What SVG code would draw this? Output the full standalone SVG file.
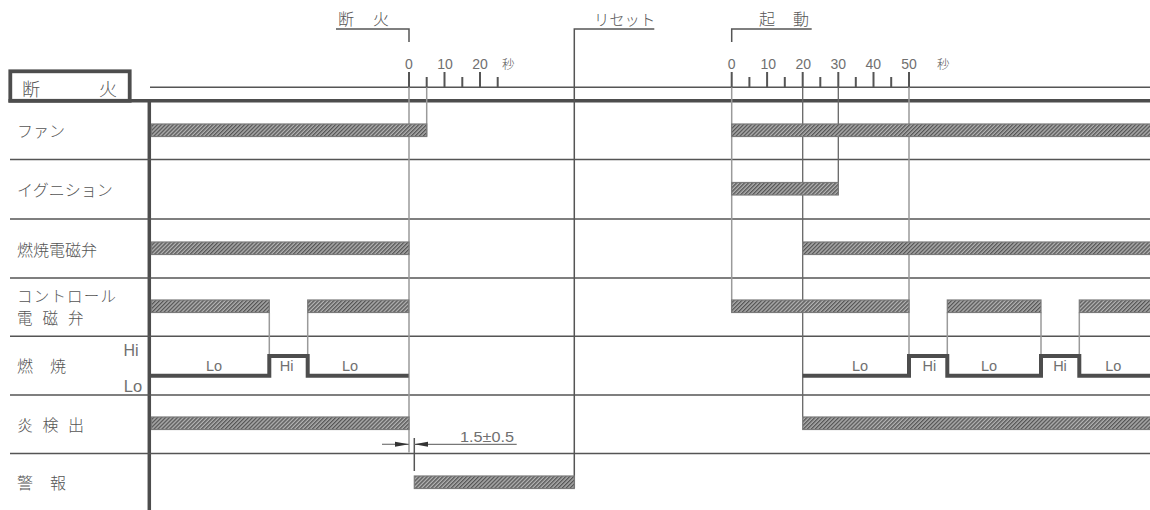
<svg xmlns="http://www.w3.org/2000/svg" width="1150" height="510" viewBox="0 0 1150 510">
  <style>
    .jp { font-family: "Noto Sans CJK JP", "Noto Sans", sans-serif; font-weight: 300; fill: #555; dominant-baseline: central; }
    .num { font-family: "Liberation Sans", "DejaVu Sans", sans-serif; fill: #707070; dominant-baseline: central; text-anchor: middle; }
    .ln { stroke: #555; stroke-width: 1.5; fill: none; }
    .thick { stroke: #4d4d4d; stroke-width: 3.5; fill: none; }
    .tick { stroke: #555; stroke-width: 2; }
    .guide { stroke: #9a9a9a; stroke-width: 1.5; fill: none; }
    .guided { stroke: #666; stroke-width: 1.3; fill: none; }
    .bar { fill: url(#hatch); stroke: #7a7a7a; stroke-width: 1.2; }
    .comb { stroke: #4d4d4d; stroke-width: 4; fill: none; stroke-linejoin: miter; }
  </style>
  <defs>
    <pattern id="hatch" patternUnits="userSpaceOnUse" width="2.8" height="2.8" patternTransform="rotate(45)">
      <rect width="2.8" height="2.8" fill="#b2b2b2"/>
      <line x1="0.7" y1="0" x2="0.7" y2="2.8" stroke="#505050" stroke-width="1.3"/>
    </pattern>
    <marker id="arr" markerWidth="14" markerHeight="6" refX="14" refY="3" orient="auto" markerUnits="userSpaceOnUse">
      <path d="M0,0.5 L14,3 L0,5.5 Z" fill="#333"/>
    </marker>
  </defs>
  <rect width="1150" height="510" fill="#fff"/>

  <!-- frame -->
  <g id="frame">
    <rect x="10.3" y="71.3" width="119.4" height="29.5" fill="#fff" stroke="#4d4d4d" stroke-width="3.8"/>
    <text class="jp" x="22" y="88" font-size="18">断</text>
    <text class="jp" x="99" y="88" font-size="18">火</text>
    <line class="ln" x1="150" y1="87.3" x2="1150" y2="87.3"/>
    <line class="thick" x1="8.5" y1="100.8" x2="1150" y2="100.8"/>
    <line class="thick" x1="149.3" y1="100.8" x2="149.3" y2="510"/>
    <line class="ln" x1="10" y1="159.5" x2="1150" y2="159.5"/>
    <line class="ln" x1="10" y1="219" x2="1150" y2="219"/>
    <line class="ln" x1="10" y1="278" x2="1150" y2="278"/>
    <line class="ln" x1="10" y1="336.3" x2="1150" y2="336.3"/>
    <line class="ln" x1="10" y1="395" x2="1150" y2="395"/>
    <line class="ln" x1="10" y1="453.5" x2="1150" y2="453.5"/>
  </g>

  <!-- row labels -->
  <g id="labels">
    <text class="jp" x="17" y="130" font-size="16">ファン</text>
    <text class="jp" x="17" y="188.5" font-size="16">イグニション</text>
    <text class="jp" x="17" y="249" font-size="16">燃焼電磁弁</text>
    <text class="jp" x="17" y="294.5" font-size="15.5" letter-spacing="1.2">コントロール</text>
    <text class="jp" x="17" y="317" font-size="15.5" letter-spacing="10">電磁弁</text>
    <text class="jp" x="17" y="365" font-size="16" letter-spacing="17">燃焼</text>
    <text class="num" x="131" y="350.7" font-size="16">Hi</text>
    <text class="num" x="133" y="386" font-size="16.5">Lo</text>
    <text class="jp" x="17" y="424" font-size="16" letter-spacing="9.5">炎検出</text>
    <text class="jp" x="17" y="481.7" font-size="16" letter-spacing="17">警報</text>
  </g>

  <!-- event markers -->
  <g id="event-stop">
    <text class="jp" x="338" y="18" font-size="16" letter-spacing="19">断火</text>
    <polyline class="ln" points="336,29 409,29 409,42"/>
  </g>
  <g id="event-reset">
    <text class="jp" x="594" y="18.3" font-size="15.3">リセット</text>
    <polyline class="ln" points="654.3,29 574.3,29 574.3,488"/>
  </g>
  <g id="event-start">
    <text class="jp" x="759" y="18" font-size="16" letter-spacing="18">起動</text>
    <polyline class="ln" points="811.7,29 731.7,29 731.7,42"/>
  </g>

  <!-- time scales -->
  <g id="scale-stop">
    <text class="num" x="409" y="64" font-size="14">0</text>
    <text class="num" x="445" y="64" font-size="14">10</text>
    <text class="num" x="480" y="64" font-size="14">20</text>
    <text class="jp" x="502" y="63" font-size="12.5">秒</text>
    <line class="tick" x1="409" y1="72" x2="409" y2="87.3"/>
    <line class="tick" x1="426.7" y1="77" x2="426.7" y2="87.3"/>
    <line class="tick" x1="444.5" y1="72" x2="444.5" y2="87.3"/>
    <line class="tick" x1="462.3" y1="77" x2="462.3" y2="87.3"/>
    <line class="tick" x1="480" y1="72" x2="480" y2="87.3"/>
    <line class="tick" x1="497.7" y1="77" x2="497.7" y2="87.3"/>
  </g>
  <g id="scale-start">
    <text class="num" x="731.7" y="64" font-size="14">0</text>
    <text class="num" x="768.3" y="64" font-size="14">10</text>
    <text class="num" x="803.3" y="64" font-size="14">20</text>
    <text class="num" x="838.3" y="64" font-size="14">30</text>
    <text class="num" x="873.3" y="64" font-size="14">40</text>
    <text class="num" x="909" y="64" font-size="14">50</text>
    <text class="jp" x="937" y="63" font-size="12.5">秒</text>
    <line class="tick" x1="731.7" y1="72" x2="731.7" y2="87.3"/>
    <line class="tick" x1="749.4" y1="77" x2="749.4" y2="87.3"/>
    <line class="tick" x1="767.1" y1="72" x2="767.1" y2="87.3"/>
    <line class="tick" x1="784.8" y1="77" x2="784.8" y2="87.3"/>
    <line class="tick" x1="802.7" y1="72" x2="802.7" y2="87.3"/>
    <line class="tick" x1="820.3" y1="77" x2="820.3" y2="87.3"/>
    <line class="tick" x1="838.3" y1="72" x2="838.3" y2="87.3"/>
    <line class="tick" x1="855.8" y1="77" x2="855.8" y2="87.3"/>
    <line class="tick" x1="873.5" y1="72" x2="873.5" y2="87.3"/>
    <line class="tick" x1="891.2" y1="77" x2="891.2" y2="87.3"/>
    <line class="tick" x1="909" y1="72" x2="909" y2="87.3"/>
  </g>

  <!-- connectors / guide lines -->
  <g id="connectors">
    <line class="guide" x1="409" y1="87.3" x2="409" y2="452.5"/>
    <line class="guide" x1="426.7" y1="87.3" x2="426.7" y2="136.5"/>
    <line class="guide" x1="731.7" y1="87.3" x2="731.7" y2="312.5"/>
    <line class="guided" x1="802.7" y1="87.3" x2="802.7" y2="417"/>
    <line class="guided" x1="838.3" y1="87.3" x2="838.3" y2="195"/>
    <line class="guide" x1="909" y1="87.3" x2="909" y2="357"/>
    <line class="guide" x1="269.3" y1="312.5" x2="269.3" y2="357"/>
    <line class="guide" x1="307.7" y1="312.5" x2="307.7" y2="357"/>
    <line class="guide" x1="947.3" y1="312.5" x2="947.3" y2="357"/>
    <line class="guide" x1="1041" y1="312.5" x2="1041" y2="357"/>
    <line class="guide" x1="1079.3" y1="312.5" x2="1079.3" y2="357"/>
    <!-- dimension 1.5±0.5 -->
    <line class="ln" x1="414.3" y1="438" x2="414.3" y2="471"/>
    <line stroke="#777" stroke-width="1.2" x1="382" y1="444.3" x2="409" y2="444.3" marker-end="url(#arr)"/>
    <line stroke="#777" stroke-width="1.2" x1="516.7" y1="444.3" x2="414.3" y2="444.3" marker-end="url(#arr)"/>
    <text class="num" x="487" y="436.7" font-size="14" textLength="54" lengthAdjust="spacingAndGlyphs">1.5±0.5</text>
  </g>

  <!-- signal bars -->
  <g id="fan">
    <rect class="bar" x="151.5" y="124" width="275.2" height="12.5"/>
    <rect class="bar" x="731.7" y="124" width="420" height="12.5"/>
  </g>
  <g id="ignition">
    <rect class="bar" x="731.7" y="182.5" width="106.6" height="12.5"/>
  </g>
  <g id="burner-valve">
    <rect class="bar" x="151.5" y="242" width="257.5" height="12.5"/>
    <rect class="bar" x="802.7" y="242" width="350" height="12.5"/>
  </g>
  <g id="control-valve">
    <rect class="bar" x="151.5" y="300" width="117.8" height="12.5"/>
    <rect class="bar" x="307.7" y="300" width="101" height="12.5"/>
    <rect class="bar" x="731.7" y="300" width="177.3" height="12.5"/>
    <rect class="bar" x="947.3" y="300" width="93.7" height="12.5"/>
    <rect class="bar" x="1079.3" y="300" width="73" height="12.5"/>
  </g>
  <g id="combustion">
    <polyline class="comb" points="151,375.7 269.3,375.7 269.3,356 307.7,356 307.7,375.7 408.7,375.7"/>
    <polyline class="comb" points="802.7,375.7 909,375.7 909,356 947.3,356 947.3,375.7 1041,375.7 1041,356 1079.3,356 1079.3,375.7 1152,375.7"/>
    <text class="num" x="214" y="366" font-size="14.5" fill="#777">Lo</text>
    <text class="num" x="286.7" y="366" font-size="14.5" fill="#888">Hi</text>
    <text class="num" x="350" y="366" font-size="14.5" fill="#777">Lo</text>
    <text class="num" x="860" y="366" font-size="14.5" fill="#777">Lo</text>
    <text class="num" x="929.3" y="366" font-size="14.5" fill="#888">Hi</text>
    <text class="num" x="989" y="366" font-size="14.5" fill="#777">Lo</text>
    <text class="num" x="1060" y="366" font-size="14.5" fill="#888">Hi</text>
    <text class="num" x="1113.3" y="366" font-size="14.5" fill="#777">Lo</text>
  </g>
  <g id="flame-detect">
    <rect class="bar" x="151.5" y="417" width="257.5" height="12.5"/>
    <rect class="bar" x="802.7" y="417" width="350" height="12.5"/>
  </g>
  <g id="alarm">
    <rect class="bar" x="414.3" y="476" width="160" height="12.5"/>
  </g>
</svg>
